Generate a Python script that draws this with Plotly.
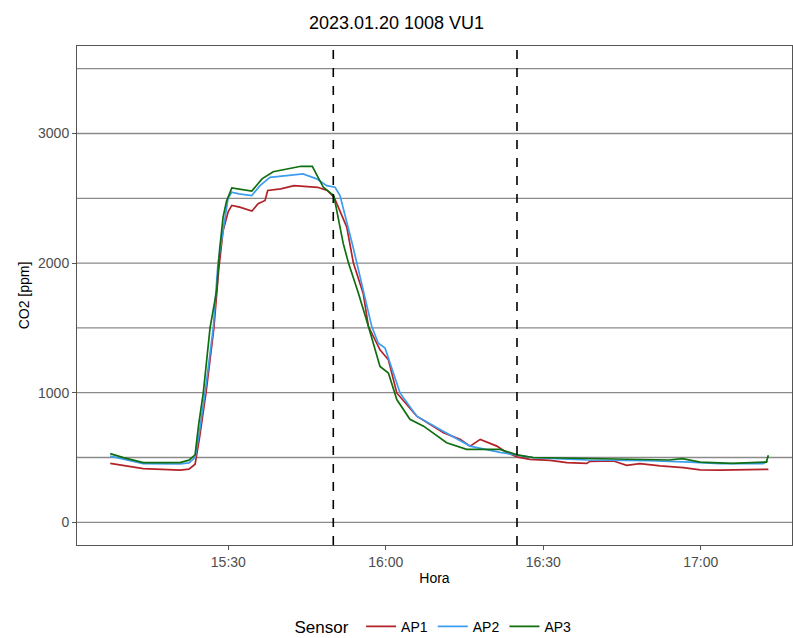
import plotly.graph_objects as go

day = "2023-01-20 "

# AP1 (red)
ap1_time = ["15:07:30", "15:10:00", "15:13:48", "15:20:48", "15:22:30", "15:23:40", "15:24:30",
            "15:25:45", "15:27:15", "15:28:10", "15:29:00", "15:30:00", "15:30:40", "15:32:10",
            "15:34:30", "15:35:40", "15:37:00", "15:37:30", "15:40:00", "15:42:30", "15:47:00",
            "15:48:50", "15:50:10", "15:52:34", "15:53:50", "15:55:42", "15:56:42", "15:58:54",
            "16:00:30", "16:02:06", "16:05:54", "16:11:00", "16:14:10", "16:16:04", "16:18:00",
            "16:21:10", "16:23:04", "16:25:00", "16:27:27", "16:31:18", "16:34:30", "16:38:18",
            "16:38:54", "16:43:24", "16:45:54", "16:48:24", "16:52:18", "16:56:42", "16:59:54",
            "17:03:42", "17:12:54"]
ap1_co2 = [455, 440, 415, 402, 410, 448, 650,
           1000, 1500, 1950, 2250, 2400, 2445, 2432,
           2401, 2458, 2483, 2560, 2573, 2598, 2585,
           2560, 2506, 2278, 2000, 1766, 1510, 1331,
           1254, 998, 819, 691, 640, 588, 640,
           588, 537, 505, 486, 478, 461, 455,
           470, 473, 440, 453, 435, 422, 404,
           402, 409]

# AP2 (blue)
ap2_time = ["15:07:30", "15:10:00", "15:13:48", "15:20:48", "15:22:30", "15:23:40", "15:24:30",
            "15:25:34", "15:27:08", "15:28:02", "15:29:57", "15:30:39", "15:32:00", "15:34:28",
            "15:36:02", "15:37:56", "15:41:45", "15:44:14", "15:46:50", "15:48:45", "15:50:20",
            "15:51:17", "15:53:46", "15:54:28", "15:57:20", "15:58:35", "15:59:52", "16:02:43",
            "16:05:54", "16:10:21", "16:16:03", "16:21:47", "16:25:00", "16:28:04", "16:38:18",
            "16:50:17", "16:57:55", "17:03:42", "17:11:53", "17:12:50"]
ap2_co2 = [511, 490, 453, 450, 458, 500, 700,
           1000, 1500, 2000, 2500, 2547, 2534, 2521,
           2598, 2662, 2675, 2688, 2650, 2598, 2585,
           2521, 2124, 2000, 1510, 1382, 1344, 998,
           819, 717, 588, 540, 520, 499, 481,
           475, 465, 453, 453, 471]

# AP3 (green)
ap3_time = ["15:07:30", "15:10:00", "15:13:48", "15:20:48", "15:22:30", "15:23:40", "15:24:20",
            "15:25:14", "15:26:31", "15:27:47", "15:28:20", "15:29:00", "15:29:40", "15:30:40",
            "15:34:28", "15:36:25", "15:38:33", "15:41:48", "15:43:50", "15:46:00", "15:48:06",
            "15:50:06", "15:51:54", "15:52:54", "15:54:48", "15:56:42", "15:58:54", "16:00:30",
            "16:02:06", "16:04:36", "16:07:12", "16:11:36", "16:15:24", "16:21:48", "16:25:00",
            "16:28:04", "16:41:00", "16:54:00", "16:56:30", "16:59:54", "17:06:00", "17:12:30",
            "17:12:54"]
ap3_co2 = [530, 499, 461, 461, 480, 520, 750,
           1000, 1500, 1790, 2100, 2355, 2480, 2580,
           2555, 2650, 2705, 2730, 2747, 2747, 2585,
           2520, 2150, 2000, 1766, 1510, 1203, 1152,
           947, 795, 742, 614, 563, 563, 520,
           500, 491, 481, 491, 465, 455, 465,
           517]

hline_levels = [0, 500, 1000, 1500, 2000, 2500, 3000, 3500]
vline_times = ["15:50:00", "16:25:00"]

series = [
    ("AP1", ap1_time, ap1_co2, "#b22228"),
    ("AP2", ap2_time, ap2_co2, "#3d9df0"),
    ("AP3", ap3_time, ap3_co2, "#0f6e0f"),
]

fig = go.Figure()

for lvl in hline_levels:
    fig.add_hline(y=lvl, line=dict(color="#8a8a8a", width=1.3), layer="below")
for t in vline_times:
    fig.add_vline(x=day + t, line=dict(color="black", width=1.6, dash="dash"))

for name, times, vals, col in series:
    fig.add_trace(go.Scatter(x=[day + t for t in times], y=vals, mode="lines", name=name,
                             line=dict(color=col, width=1.7)))

fig.update_layout(
    width=793, height=638,
    paper_bgcolor="white", plot_bgcolor="white",
    font=dict(family="Liberation Sans, Arial, sans-serif", color="#222"),
    title=dict(text="2023.01.20 1008 VU1", x=0.5, xanchor="center", y=0.965, yanchor="middle",
               font=dict(size=18, color="black")),
    margin=dict(l=77, r=1, t=46, b=93, autoexpand=False),
    showlegend=True,
    legend=dict(orientation="h", x=0.5, xanchor="center", y=-0.165, yanchor="middle",
                title=dict(text="Sensor ", font=dict(size=17, color="black")),
                font=dict(size=14, color="black"), itemwidth=30),
)

fig.update_xaxes(
    type="date", range=[day + "15:01:10", day + "17:17:24"],
    tickvals=[day + "15:30", day + "16:00", day + "16:30", day + "17:00"],
    tickformat="%H:%M", showgrid=False, zeroline=False, automargin=False,
    showline=True, linecolor="#555", linewidth=1, mirror=True,
    ticks="outside", ticklen=4, tickcolor="#555",
    tickfont=dict(size=14, color="#4d4d4d"),
    title=dict(text="Hora", font=dict(size=14, color="black"), standoff=4),
)
fig.update_yaxes(
    range=[-175, 3675], tickvals=[0, 1000, 2000, 3000],
    showgrid=False, zeroline=False, automargin=False,
    showline=True, linecolor="#555", linewidth=1, mirror=True,
    ticks="outside", ticklen=4, tickcolor="#555",
    tickfont=dict(size=14, color="#4d4d4d"),
    title=dict(text="CO2 [ppm]", font=dict(size=14, color="black"), standoff=5),
)

# page body has a default 8px margin; drop it so the figure fills the window
fig.write_html("out.html", config={"displayModeBar": False},
               post_script="document.body.style.margin='0';")
